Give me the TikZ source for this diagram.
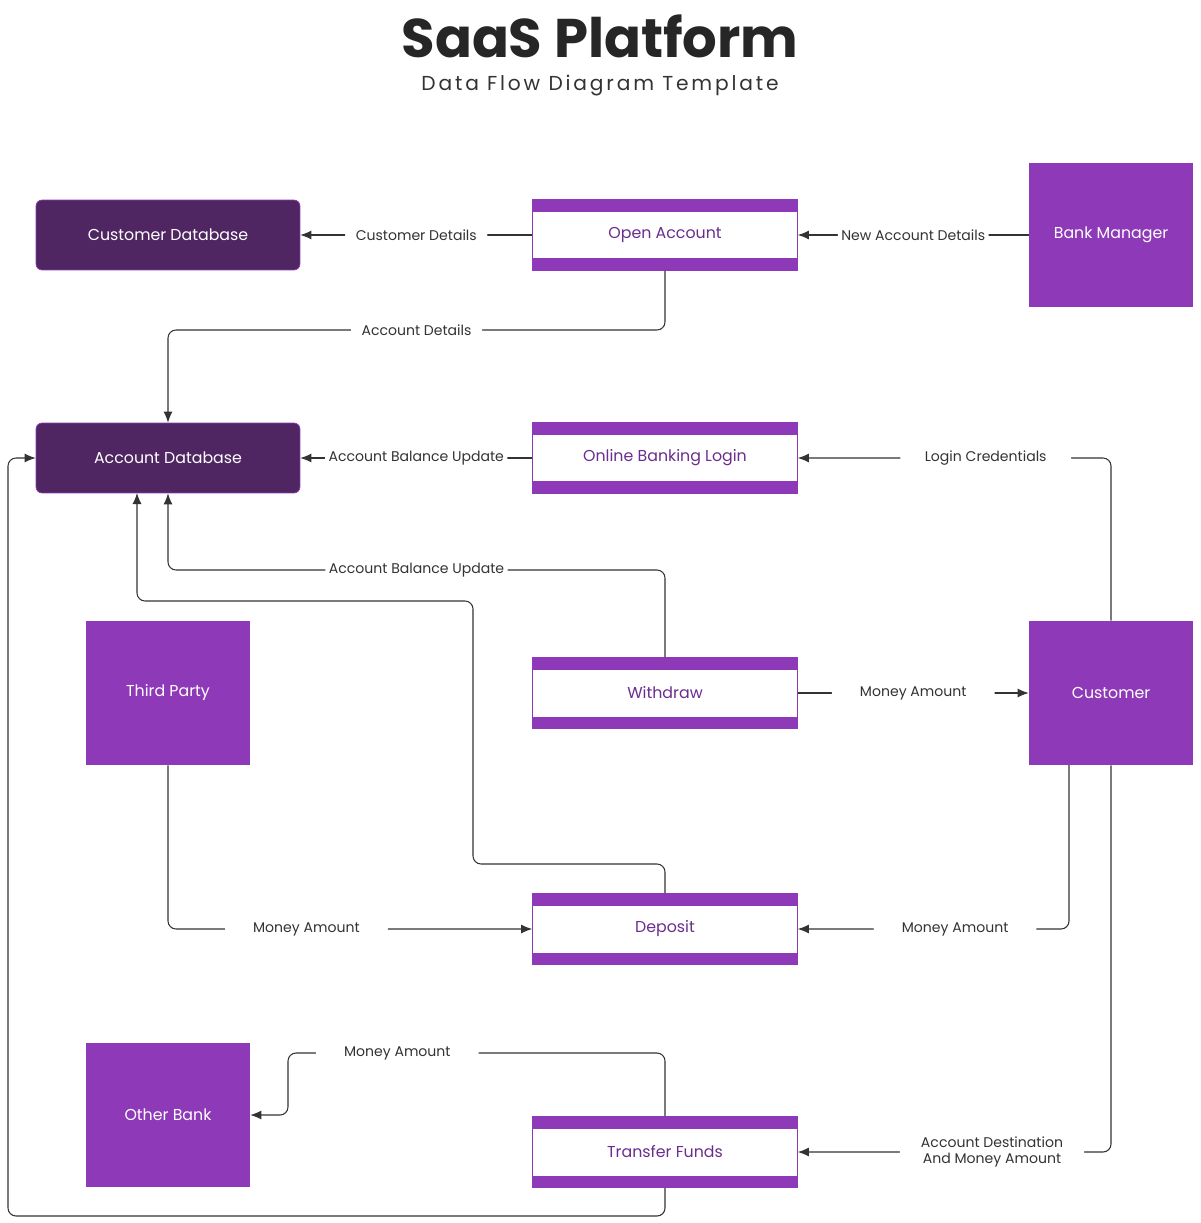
\documentclass[tikz,border=0pt]{standalone}
\usepackage{fontspec}
\setmainfont{Poppins}
\usetikzlibrary{arrows.meta}
\definecolor{dbfill}{HTML}{502662}
\definecolor{purp}{HTML}{8E3AB8}
\definecolor{ink}{HTML}{333333}
\definecolor{proctext}{HTML}{6B2D8E}
\tikzset{
  database/.style={draw=purp, fill=dbfill, rounded corners=0.12cm, minimum width=5.28cm, minimum height=1.4cm, text=white, font=\fontsize{9}{11}\selectfont},
  entity/.style={fill=purp, minimum width=3.28cm, minimum height=2.88cm, text=white, font=\fontsize{9}{11}\selectfont},
  process/.style={draw=purp, fill=white, minimum width=5.3cm, minimum height=1.42cm, text=proctext, font=\fontsize{9}{11}\selectfont,
    path picture={
      \fill[purp] (path picture bounding box.north west) rectangle ([yshift=-0.24cm]path picture bounding box.north east);
      \fill[purp] (path picture bounding box.south west) rectangle ([yshift=0.24cm]path picture bounding box.south east);
    }},
  flow/.style={draw=ink, line width=0.6pt, rounded corners=0.16cm, -{Latex[length=2.2mm,width=1.8mm]}},
  lbl/.style={fill=white, text=ink, inner xsep=6pt, inner ysep=1pt, font=\fontsize{8}{9.5}\selectfont}
}
\begin{document}
\begin{tikzpicture}[x=0.02cm, y=-0.02cm]
    \useasboundingbox (0,0) rectangle (1200,1223);

    % Titulo
    \node[text=black!85, font=\fontsize{31}{34}\selectfont\bfseries] (title) at (600,36) {SaaS Platform};
    \node[text=ink, font=\fontsize{11.5}{13}\selectfont\addfontfeatures{LetterSpace=14}] (subtitle) at (600,86) {Data Flow Diagram Template};

    % Almacenes de datos
    \node[database] (cdb) at (168,235) {Customer Database};
    \node[database] (adb) at (168,458) {Account Database};

    % Procesos
    \node[process] (oa) at (665,235) {Open Account};
    \node[process] (obl) at (665,458) {Online Banking Login};
    \node[process] (wd) at (665,693) {Withdraw};
    \node[process] (dp) at (665,929) {Deposit};
    \node[process] (tf) at (665,1152) {Transfer Funds};

    % Entidades externas
    \node[entity] (bm) at (1111,235) {Bank Manager};
    \node[entity] (cu) at (1111,693) {Customer};
    \node[entity] (tp) at (168,693) {Third Party};
    \node[entity] (ob) at (168,1115) {Other Bank};

    % Puntos auxiliares
    \coordinate (cuout) at (1069,765);
    \coordinate (adbin) at (137,493);

    % Flujos
    \draw[flow] (oa.west) -- node[lbl]{Customer Details} (cdb.east);
    \draw[flow] (bm.west) -- node[lbl, inner xsep=2pt]{New Account Details} (oa.east);
    \draw[flow] (oa.south) -- (665,330) -- node[lbl]{Account Details} (168,330) -- (adb.north);
    \draw[flow] (obl.west) -- node[lbl, inner xsep=2pt]{Account Balance Update} (adb.east);
    \draw[flow] (cu.north) -- (1111,458) -- node[lbl, pos=0.4, inner xsep=14pt]{Login Credentials} (obl.east);
    \draw[flow] (wd.north) -- (665,570) -- node[lbl, inner xsep=2pt]{Account Balance Update} (168,570) -- (adb.south);
    \draw[flow] (dp.north) -- (665,864) -- (473,864) -- (473,601) -- (137,601) -- (adbin);
    \draw[flow] (wd.east) -- node[lbl, inner xsep=16pt]{Money Amount} (cu.west);
    \draw[flow] (tp.south) -- (168,929) -- node[lbl, pos=0.38, inner xsep=16pt]{Money Amount} (dp.west);
    \draw[flow] (cuout) -- (1069,929) -- node[lbl, pos=0.42, inner xsep=16pt]{Money Amount} (dp.east);
    \draw[flow] (tf.north) -- (665,1053) -- node[lbl, pos=0.71, inner xsep=16pt]{Money Amount} (288,1053) -- (288,1115) -- (ob.east);
    \draw[flow] (cu.south) -- (1111,1152) -- node[lbl, pos=0.38, align=center, inner xsep=12pt]{Account Destination\\And Money Amount} (tf.east);
    \draw[flow] (tf.south) -- (665,1216) -- (8,1216) -- (8,458) -- (adb.west);
\end{tikzpicture}
\end{document}
